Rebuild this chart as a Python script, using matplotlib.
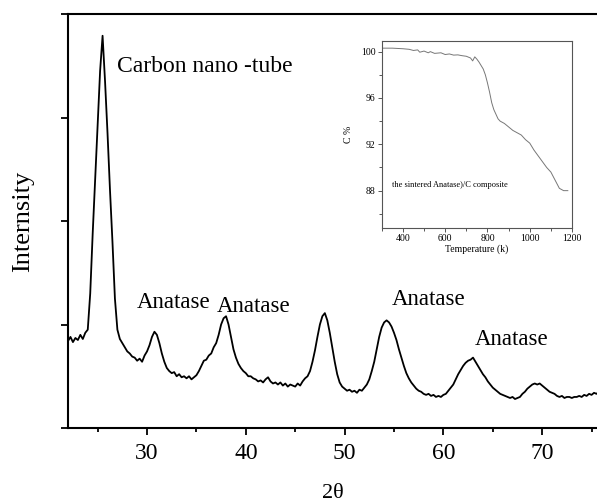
import numpy as np
import matplotlib
matplotlib.use("Agg")
from matplotlib import pyplot as plt
from matplotlib.ticker import MultipleLocator

# XRD pattern, 2theta from 22 in 0.25 deg steps
xrd_start = 22.0
xrd_step = 0.25
intensity = [
	0.84, 0.88, 0.83, 0.87, 0.85, 0.90, 0.86, 0.92, 0.95,  # 22.0 - 24.0
	1.30, 1.88, 2.40, 2.90, 3.45, 3.79, 3.35, 2.85, 2.30, 1.80, 1.25, 0.95,  # carbon peak
	0.86, 0.82, 0.78, 0.74, 0.72, 0.69, 0.68, 0.65, 0.67, 0.64, 0.70, 0.74,
	0.80, 0.88, 0.93, 0.90, 0.82, 0.72, 0.64, 0.58, 0.55, 0.53, 0.54, 0.50,
	0.52, 0.49, 0.50, 0.48, 0.50, 0.47, 0.49, 0.51, 0.55, 0.60, 0.65, 0.66,
	0.70, 0.72, 0.78, 0.82, 0.90, 1.00, 1.06, 1.08, 1.00, 0.88, 0.76, 0.68,
	0.62, 0.58, 0.55, 0.53, 0.50, 0.50, 0.48, 0.47, 0.45, 0.46, 0.44, 0.47,
	0.49, 0.45, 0.43, 0.44, 0.42, 0.44, 0.41, 0.43, 0.40, 0.42, 0.41, 0.40,
	0.43, 0.41, 0.45, 0.48, 0.50, 0.55, 0.64, 0.75, 0.88, 1.00, 1.08, 1.11,
	1.04, 0.92, 0.78, 0.64, 0.52, 0.44, 0.40, 0.38, 0.36, 0.37, 0.35, 0.36,
	0.34, 0.37, 0.36, 0.39, 0.42, 0.47, 0.55, 0.64, 0.76, 0.88, 0.97, 1.02,
	1.04, 1.02, 0.98, 0.92, 0.85, 0.76, 0.68, 0.60, 0.53, 0.48, 0.44, 0.41,
	0.38, 0.36, 0.35, 0.33, 0.32, 0.33, 0.31, 0.32, 0.30, 0.31, 0.30, 0.32,
	0.33, 0.36, 0.39, 0.42, 0.47, 0.52, 0.56, 0.60, 0.63, 0.65, 0.66, 0.68,
	0.64, 0.60, 0.56, 0.52, 0.49, 0.45, 0.42, 0.39, 0.37, 0.35, 0.33, 0.32,
	0.31, 0.30, 0.29, 0.30, 0.28, 0.29, 0.30, 0.33, 0.35, 0.38, 0.40, 0.42,
	0.43, 0.42, 0.43, 0.41, 0.39, 0.37, 0.35, 0.34, 0.33, 0.31, 0.30, 0.31,
	0.29, 0.30, 0.30, 0.29, 0.30, 0.30, 0.31, 0.30, 0.32, 0.31, 0.33, 0.32,
	0.34, 0.33, 0.35,
]
two_theta = xrd_start + xrd_step * np.arange(len(intensity))

# peak labels: (text, 2theta, intensity)
labels = ["Carbon nano -tube", "Anatase", "Anatase", "Anatase", "Anatase"]
label_x = [26.96, 28.95, 37.05, 54.76, 63.19]
label_y = [3.44, 1.16, 1.12, 1.19, 0.80]

# inset: carbon content vs temperature
temp = [300, 350, 400, 430, 450, 470, 480, 500, 520, 530, 550, 580, 600, 620, 640,
	660, 680, 700, 720, 730, 740, 750, 760, 770, 780, 790, 800, 810, 820, 830,
	840, 850, 860, 880, 900, 920, 940, 960, 980, 1000, 1020, 1040, 1060, 1080,
	1100, 1120, 1140, 1160, 1180]
c_pct = [100.3, 100.3, 100.25, 100.2, 100.1, 100.15, 99.95, 100.05, 99.9, 100.0,
	99.85, 99.9, 99.75, 99.8, 99.7, 99.72, 99.65, 99.6, 99.45, 99.2, 99.55, 99.35,
	99.1, 98.8, 98.5, 98.0, 97.3, 96.5, 95.6, 95.0, 94.6, 94.2, 94.0, 93.8, 93.5,
	93.2, 93.0, 92.8, 92.4, 92.1, 91.5, 91.0, 90.5, 90.0, 89.6, 88.9, 88.2, 88.0,
	88.0]

plt.rcParams['font.family'] = ['Liberation Serif', 'DejaVu Serif']

fig = plt.figure(figsize=(5.97, 5.04), dpi=100)
ax = fig.add_axes([0.1139, 0.1508, 0.8861, 0.8214])
ax.plot(two_theta, intensity, color='black', lw=1.3)
ax.set_xlim(22, 75.55)
ax.set_ylim(0, 4.0)

for s in ['left', 'bottom', 'top']:
	ax.spines[s].set_linewidth(1.5)
ax.spines['right'].set_visible(False)
ax.xaxis.set_major_locator(MultipleLocator(10))
ax.xaxis.set_minor_locator(MultipleLocator(5))
ax.yaxis.set_major_locator(MultipleLocator(1))
ax.set_yticklabels([])
ax.tick_params(axis='both', which='major', length=5, width=1.3, direction='out')
ax.tick_params(axis='x', which='minor', length=3, width=1.3, direction='out')
ax.tick_params(axis='x', labelsize=17, pad=6)

ax.set_xlabel("2θ", fontsize=16, labelpad=14)
ax.set_ylabel("Internsity", fontsize=19, labelpad=16)

for i in range(len(labels)):
	ax.text(label_x[i], label_y[i], labels[i], fontsize=17 if i == 0 else 16.5, va='baseline')

# inset
gray = '#555555'
ins = fig.add_axes([0.6394, 0.5482, 0.3188, 0.3705])
ins.plot(temp, c_pct, color='#777777', lw=0.7)
ins.set_xlim(300, 1200)
ins.set_ylim(84.8, 100.92)
ins.xaxis.set_major_locator(MultipleLocator(200))
ins.xaxis.set_minor_locator(MultipleLocator(100))
ins.yaxis.set_major_locator(MultipleLocator(4))
ins.yaxis.set_minor_locator(MultipleLocator(2))
for s in ins.spines.values():
	s.set_color(gray)
	s.set_linewidth(0.8)
ins.tick_params(which='both', direction='out', color=gray, labelsize=7, pad=1.5, width=0.7)
ins.tick_params(which='major', length=3)
ins.tick_params(which='minor', length=2)
ins.set_xlabel("Temperature (k)", fontsize=7, labelpad=1)
ins.set_ylabel("C %", fontsize=7, labelpad=6)
ins.text(347, 88.35, "the sintered Anatase)/C composite", fontsize=6, va='baseline')

plt.savefig("out.png", dpi=100)
